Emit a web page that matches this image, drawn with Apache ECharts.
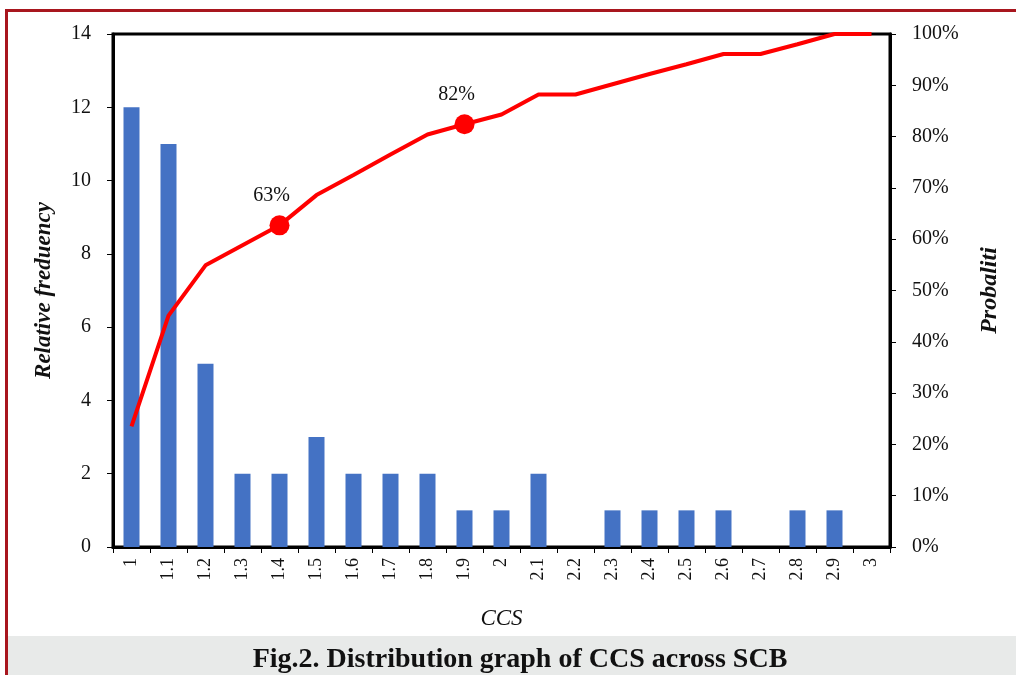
<!DOCTYPE html>
<html><head><meta charset="utf-8">
<script src="https://cdn.jsdelivr.net/npm/echarts@6/dist/echarts.min.js"></script>
<style>html,body{margin:0;padding:0;background:#fff}#c{width:1016px;height:675px}</style>
</head><body><div id="c"></div>
<script>
const categories = ['1','1.1','1.2','1.3','1.4','1.5','1.6','1.7','1.8','1.9','2','2.1','2.2','2.3','2.4','2.5','2.6','2.7','2.8','2.9','3'];
const frequency = [12,11,5,2,2,3,2,2,2,1,1,2,0,1,1,1,1,0,1,1,0];
const cumulativePct = [23.5,45.1,54.9,58.8,62.7,68.6,72.5,76.5,80.4,82.4,84.3,88.2,88.2,90.2,92.2,94.1,96.1,96.1,98.0,100,100];
const markedIdx = [4, 9];
const leftTicks = {min:0, max:14, interval:2};
const rightTicks = {min:0, max:100, interval:10};

const F = '"Liberation Serif", "DejaVu Serif", serif';
const chart = echarts.init(document.getElementById('c'), null, {renderer:'canvas'});
const lineData = cumulativePct.map((v,i)=> markedIdx.includes(i) ? {
  value:v, symbol:'circle', symbolSize:20,
  label:{show:true, position:'top', distance:10, offset:[-8,0], formatter:(p)=>Math.round(p.value)+'%', color:'#111', fontFamily:F, fontSize:20}
} : {value:v, symbol:'none'});

chart.setOption({
  animation:false,
  backgroundColor:'#fff',
  graphic:[
    {type:'rect', z:-10, shape:{x:8, y:636, width:1010, height:40}, style:{fill:'#E8EAE9'}},
    {type:'rect', z:10, shape:{x:6.5, y:10.5, width:1030, height:700}, style:{fill:'none', stroke:'#A8161E', lineWidth:3}},
    {type:'text', z:11, x:520, y:660, style:{text:'Fig.2. Distribution graph of CCS across SCB', fontFamily:F, fontWeight:'bold', fontSize:28, fill:'#111', align:'center', verticalAlign:'middle'}}
  ],
  grid:{left:113, right:126, top:34, bottom:128, show:true, borderColor:'#000', borderWidth:3, backgroundColor:'transparent'},
  xAxis:{
    type:'category', data:categories, boundaryGap:true,
    axisLine:{show:true, lineStyle:{color:'#000', width:3}},
    axisTick:{show:true, inside:false, length:6, alignWithLabel:false, lineStyle:{color:'#000', width:1}},
    axisLabel:{rotate:90, margin:11, fontFamily:F, fontSize:18, color:'#111', interval:0},
    name:'CCS', nameLocation:'middle', nameGap:60,
    nameTextStyle:{fontFamily:F, fontStyle:'italic', fontSize:23, color:'#111'}
  },
  yAxis:[
    {type:'value', min:leftTicks.min, max:leftTicks.max, interval:leftTicks.interval,
     splitLine:{show:false},
     axisLine:{show:true, lineStyle:{color:'#000', width:3}},
     axisTick:{show:true, inside:false, length:6, lineStyle:{color:'#000', width:1}},
     axisLabel:{margin:22, fontFamily:F, fontSize:20, color:'#111'},
     name:'Relative freduency', nameLocation:'middle', nameGap:57, nameRotate:90,
     nameTextStyle:{fontFamily:F, fontStyle:'italic', fontWeight:'bold', fontSize:23, color:'#111'}
    },
    {type:'value', min:rightTicks.min, max:rightTicks.max, interval:rightTicks.interval, position:'right',
     splitLine:{show:false},
     axisLine:{show:true, lineStyle:{color:'#000', width:3}},
     axisTick:{show:true, inside:false, length:6, lineStyle:{color:'#000', width:1}},
     axisLabel:{margin:22, fontFamily:F, fontSize:20, color:'#111', formatter:'{value}%'},
     name:'Probaliti', nameLocation:'middle', nameGap:88, nameRotate:90,
     nameTextStyle:{fontFamily:F, fontStyle:'italic', fontWeight:'bold', fontSize:24, color:'#111'}
    }
  ],
  series:[
    {type:'bar', data:frequency, yAxisIndex:0, barWidth:16, itemStyle:{color:'#4472C4'}},
    {type:'line', data:lineData, yAxisIndex:1, lineStyle:{color:'#FF0000', width:4}, itemStyle:{color:'#FF0000'}, showSymbol:true, z:5}
  ]
});
</script></body></html>
